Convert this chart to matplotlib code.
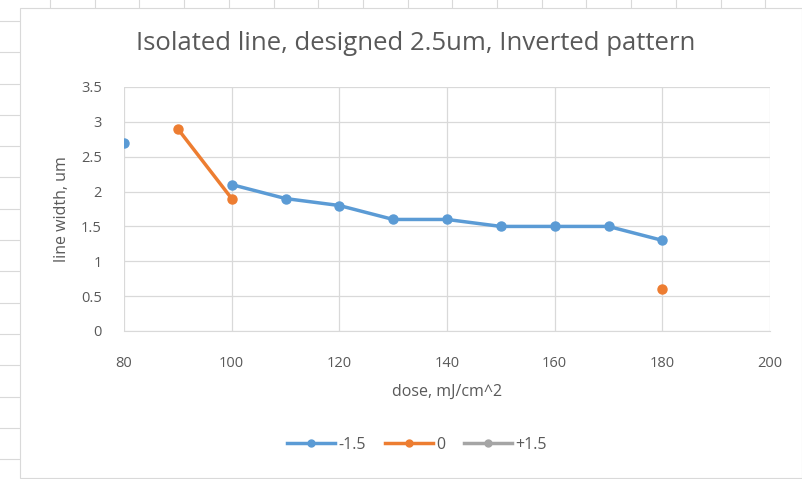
import numpy as np
import matplotlib.pyplot as plt
from matplotlib.lines import Line2D
from matplotlib.patches import Rectangle

dose = [80, 90, 100, 110, 120, 130, 140, 150, 160, 170, 180]
width_m15 = [2.7, np.nan, 2.1, 1.9, 1.8, 1.6, 1.6, 1.5, 1.5, 1.5, 1.3]
width_0 = [np.nan, 2.9, 1.9, np.nan, np.nan, np.nan, np.nan, np.nan, np.nan, np.nan, 0.6]
width_p15 = [np.nan] * 11
labels = ['-1.5', '0', '+1.5']
colors = ['#5b9bd5', '#ed7d31', '#a5a5a5']

plt.rcParams['font.family'] = ['Open Sans', 'DejaVu Sans']
txt = '#595959'

fig = plt.figure(figsize=(8.02, 4.79), dpi=100)
W, H = 802, 479

# spreadsheet cells behind the chart
for x in np.arange(50, W, 44.7):
    fig.add_artist(Line2D([x / W, x / W], [1, 1 - 8 / H], color='#d9d9d9', lw=0.8, zorder=-3))
for y in np.arange(21, H, 31.3):
    fig.add_artist(Line2D([0, 20 / W], [1 - y / H, 1 - y / H], color='#d9d9d9', lw=0.8, zorder=-3))
fig.add_artist(Rectangle((20 / W, 0.002), 1 - 20 / W, 1 - 8 / H - 0.002,
                         transform=fig.transFigure, facecolor='white',
                         edgecolor='#d9d9d9', lw=0.8, zorder=-2))

ax = fig.add_axes([124 / W, 1 - 331 / H, (770 - 124) / W, (331 - 87) / H])
ax.patch.set_alpha(0)
for vals, lab, c in zip([width_m15, width_0, width_p15], labels, colors):
    ax.plot(dose, vals, color=c, lw=2.5, marker='o', ms=6.5, label=lab, zorder=3)

ax.set_xlim(80, 200)
ax.set_ylim(0, 3.5)
ax.set_xticks(np.arange(80, 201, 20))
ax.set_yticks(np.arange(0, 3.51, 0.5))
ax.set_yticklabels(['0', '0.5', '1', '1.5', '2', '2.5', '3', '3.5'])
ax.grid(True, color='#d9d9d9', lw=0.9)
ax.set_axisbelow(True)
for s in ['top', 'right', 'left']:
    ax.spines[s].set_visible(False)
ax.spines['bottom'].set_color('#d9d9d9')
ax.tick_params(length=0, colors=txt, labelsize=10.5, pad=18)
ax.tick_params(axis='y', pad=16)

ax.set_xlabel('dose, mJ/cm^2', color=txt, fontsize=11.5, labelpad=9)
ax.set_ylabel('line width, um', color=txt, fontsize=11.5, labelpad=8)
fig.text(0.518, 1 - 44 / H, 'Isolated line, designed 2.5um, Inverted pattern',
         ha='center', va='center', color=txt, fontsize=18.5)

handles = [Line2D([], [], color=c, lw=2.5, marker='o', ms=5) for c in colors]
fig.legend(handles, labels, loc='center', bbox_to_anchor=(0.52, 1 - 445 / H),
           ncol=3, frameon=False, fontsize=11.5, labelcolor=txt,
           handlelength=3.0, handletextpad=0.2, columnspacing=1.2)

fig.savefig('out.png', dpi=100)
